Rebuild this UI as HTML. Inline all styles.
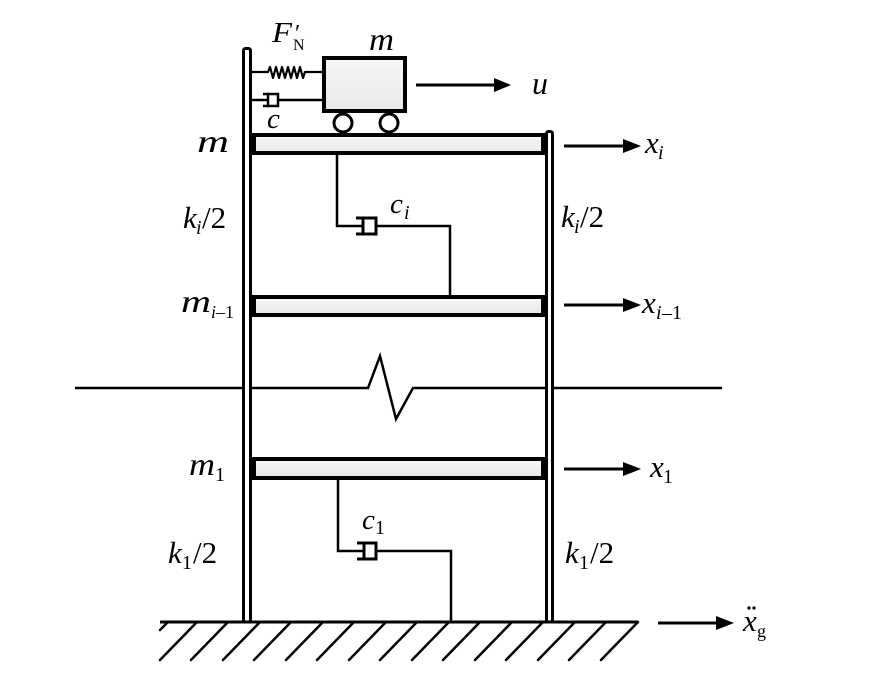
<!DOCTYPE html>
<html>
<head>
<meta charset="utf-8">
<style>
html,body{margin:0;padding:0;background:#fff;}
svg{display:block;font-family:"Liberation Serif","Times New Roman",serif;}
svg text{font-family:"Liberation Serif","Times New Roman",serif;fill:#000;}
.it{font-style:italic;}
</style>
</head>
<body>
<svg width="874" height="683" viewBox="0 0 874 683" xmlns="http://www.w3.org/2000/svg" font-family="Liberation Serif, serif">
<defs>
<linearGradient id="g1" x1="0" y1="0" x2="0" y2="1">
<stop offset="0" stop-color="#f8f8f8"/>
<stop offset="1" stop-color="#e8e8e8"/>
</linearGradient>
</defs>
<rect width="874" height="683" fill="#fff"/>

<!-- break line -->
<polyline points="75,388 368,388 380,356 396,419 413,388 722,388" fill="none" stroke="#000" stroke-width="2.5" stroke-linejoin="miter"/>

<!-- ground -->
<line x1="160" y1="622" x2="638" y2="622" stroke="#000" stroke-width="3"/>
<g stroke="#000" stroke-width="2.5" stroke-linecap="round">
<line x1="168" y1="622" x2="160" y2="630"/>
<line x1="197" y1="622" x2="160" y2="660"/>
<line x1="228" y1="622" x2="191" y2="660"/>
<line x1="260" y1="622" x2="223" y2="660"/>
<line x1="291" y1="622" x2="254" y2="660"/>
<line x1="323" y1="622" x2="286" y2="660"/>
<line x1="354" y1="622" x2="317" y2="660"/>
<line x1="386" y1="622" x2="349" y2="660"/>
<line x1="417" y1="622" x2="380" y2="660"/>
<line x1="449" y1="622" x2="412" y2="660"/>
<line x1="480" y1="622" x2="443" y2="660"/>
<line x1="512" y1="622" x2="475" y2="660"/>
<line x1="543" y1="622" x2="506" y2="660"/>
<line x1="575" y1="622" x2="538" y2="660"/>
<line x1="606" y1="622" x2="569" y2="660"/>
<line x1="638" y1="622" x2="601" y2="660"/>
</g>

<!-- dampers ci and c1 connectors -->
<g fill="none" stroke="#000" stroke-width="2.5">
<polyline points="337,155 337,226 362,226"/>
<polyline points="376,226 450,226 450,296"/>
<polyline points="338,480 338,551 363,551"/>
<polyline points="376,551 451,551 451,622"/>
</g>
<g stroke="#000" stroke-width="3" fill="#fff">
<rect x="363" y="218" width="13" height="16"/>
<line x1="356" y1="218" x2="363" y2="218"/>
<line x1="356" y1="234" x2="363" y2="234"/>
<rect x="364" y="543" width="12" height="16"/>
<line x1="357" y1="543" x2="364" y2="543"/>
<line x1="357" y1="559" x2="364" y2="559"/>
</g>

<!-- slabs -->
<g stroke="#000" stroke-width="4" fill="url(#g1)">
<rect x="254" y="135" width="289" height="18"/>
<rect x="254" y="297" width="289" height="18"/>
<rect x="254" y="459" width="289" height="19"/>
</g>

<!-- columns -->
<g stroke="#000" stroke-width="3" fill="#fff">
<rect x="243.5" y="48.5" width="7" height="573.5" rx="2"/>
<rect x="546.5" y="131.5" width="6" height="490.5" rx="2"/>
</g>

<!-- top spring -->
<g fill="none" stroke="#000" stroke-width="2.2" stroke-linejoin="round">
<polyline points="252,72 268,72 270,67 273,78 276,67 279,78 282,67 285,78 288,67 291,78 294,67 297,78 300,67 303,78 305,72 322,72"/>
</g>
<!-- top damper c -->
<g stroke="#000" stroke-width="2.5" fill="none">
<line x1="252" y1="100" x2="268" y2="100"/>
<line x1="278" y1="100" x2="322" y2="100"/>
</g>
<g stroke="#000" stroke-width="2.5" fill="#fff">
<rect x="268" y="94" width="10" height="12"/>
<line x1="263" y1="94" x2="268" y2="94"/>
<line x1="263" y1="106" x2="268" y2="106"/>
</g>

<!-- cart -->
<rect x="324" y="58" width="81" height="53" fill="url(#g1)" stroke="#000" stroke-width="4"/>
<circle cx="343" cy="123" r="9" fill="#fff" stroke="#000" stroke-width="3"/>
<circle cx="389" cy="123" r="9" fill="#fff" stroke="#000" stroke-width="3"/>

<!-- arrows -->
<g stroke="#000" stroke-width="3">
<line x1="416" y1="85" x2="496" y2="85"/>
<line x1="564" y1="146" x2="626" y2="146"/>
<line x1="564" y1="305" x2="626" y2="305"/>
<line x1="564" y1="469" x2="626" y2="469"/>
<line x1="658" y1="623" x2="718" y2="623"/>
</g>
<g fill="#000">
<polygon points="494,78 511,85 494,92"/>
<polygon points="623,139 641,146 623,153"/>
<polygon points="623,298 641,305 623,312"/>
<polygon points="623,462 641,469 623,476"/>
<polygon points="716,616 734,623 716,630"/>
</g>

<!-- labels top -->
<text class="it" font-style="italic" x="272" y="42" font-size="28" textLength="20" lengthAdjust="spacingAndGlyphs">F</text>
<text x="295" y="41" font-size="24">′</text>
<text x="293" y="50" font-size="16">N</text>
<text class="it" font-style="italic" x="369" y="50" font-size="32" textLength="25" lengthAdjust="spacingAndGlyphs">m</text>
<text class="it" font-style="italic" x="532" y="94" font-size="32">u</text>
<text class="it" font-style="italic" x="267" y="128" font-size="29">c</text>

<!-- damper labels -->
<text class="it" font-style="italic" x="390" y="213" font-size="29">c</text>
<text class="it" font-style="italic" x="404" y="219" font-size="20">i</text>
<text class="it" font-style="italic" x="362" y="529" font-size="29">c</text>
<text x="375" y="534" font-size="20">1</text>

<!-- left labels -->
<text class="it" font-style="italic" x="197" y="152" font-size="32" textLength="32" lengthAdjust="spacingAndGlyphs">m</text>
<text class="it" font-style="italic" x="183" y="228" font-size="31">k</text>
<text class="it" font-style="italic" x="196" y="234" font-size="20">i</text>
<text x="202" y="228" font-size="31">/2</text>
<text class="it" font-style="italic" x="181" y="312" font-size="32" textLength="30" lengthAdjust="spacingAndGlyphs">m</text>
<text class="it" font-style="italic" x="211" y="318" font-size="18">i</text>
<text x="216" y="318" font-size="18">–1</text>
<text class="it" font-style="italic" x="189" y="475" font-size="32" textLength="26" lengthAdjust="spacingAndGlyphs">m</text>
<text x="215" y="481" font-size="20">1</text>
<text class="it" font-style="italic" x="168" y="563" font-size="31">k</text>
<text x="182" y="569" font-size="20">1</text>
<text x="193" y="563" font-size="31">/2</text>

<!-- right labels -->
<text class="it" font-style="italic" x="561" y="227" font-size="31">k</text>
<text class="it" font-style="italic" x="574" y="233" font-size="20">i</text>
<text x="580" y="227" font-size="31">/2</text>
<text class="it" font-style="italic" x="565" y="563" font-size="31">k</text>
<text x="579" y="569" font-size="20">1</text>
<text x="590" y="563" font-size="31">/2</text>

<text class="it" font-style="italic" x="645" y="153" font-size="31">x</text>
<text class="it" font-style="italic" x="658" y="159" font-size="20">i</text>
<text class="it" font-style="italic" x="642" y="313" font-size="31">x</text>
<text class="it" font-style="italic" x="656" y="319" font-size="20">i</text>
<text x="662" y="319" font-size="20">–1</text>
<text class="it" font-style="italic" x="650" y="477" font-size="31">x</text>
<text x="663" y="483" font-size="20">1</text>
<text class="it" font-style="italic" x="743" y="631" font-size="31">x</text>
<circle cx="749" cy="608" r="1.6" fill="#000"/>
<circle cx="754" cy="608" r="1.6" fill="#000"/>
<text x="757" y="637" font-size="18">g</text>
</svg>
</body>
</html>
